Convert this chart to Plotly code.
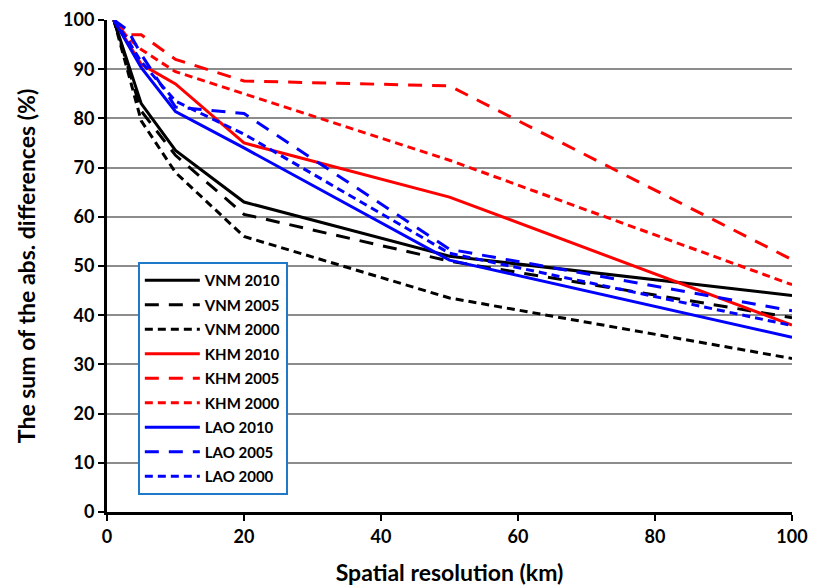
import plotly.graph_objects as go

# spatial resolution (km)
resolution = [1, 3, 5, 10, 20, 50, 100]

vnm_2010 = [100, 91.5, 83, 73.5, 63, 52, 44]
vnm_2005 = [100, 90.5, 81.5, 72.5, 60.5, 51, 39.5]
vnm_2000 = [100, 89.5, 79.5, 69, 56, 43.5, 31.2]
khm_2010 = [100, 95.5, 91, 87, 75, 64, 38]
khm_2005 = [100, 97, 97, 92, 87.6, 86.6, 51.3]
khm_2000 = [100, 96.5, 94, 89.5, 85, 71.5, 46.2]
lao_2010 = [100, 95, 90.3, 81.4, 74, 51.2, 35.5]
lao_2005 = [100, 98, 93, 82.3, 81, 53.4, 40.9]
lao_2000 = [100, 96, 91.5, 83.5, 76.8, 52.6, 37.9]

LONG_DASH = "14px,10px"
SHORT_DASH = "8px,5px"

series = [
    ("VNM 2010", vnm_2010, "black", "solid"),
    ("VNM 2005", vnm_2005, "black", LONG_DASH),
    ("VNM 2000", vnm_2000, "black", SHORT_DASH),
    ("KHM 2010", khm_2010, "#ff0000", "solid"),
    ("KHM 2005", khm_2005, "#ff0000", LONG_DASH),
    ("KHM 2000", khm_2000, "#ff0000", SHORT_DASH),
    ("LAO 2010", lao_2010, "#0000ff", "solid"),
    ("LAO 2005", lao_2005, "#0000ff", LONG_DASH),
    ("LAO 2000", lao_2000, "#0000ff", SHORT_DASH),
]

FONT = "Lato"

fig = go.Figure()
for name, values, color, dash in series:
    fig.add_trace(
        go.Scatter(
            x=resolution,
            y=values,
            mode="lines",
            name=name,
            legendgroup=name,
            line=dict(color=color, width=3, dash=dash),
        )
    )

# the page puts the plot 8px in from the top-left corner, margins make up for it
fig.update_layout(
    width=817,
    height=587,
    margin=dict(l=99, r=33, t=12, b=83, autoexpand=False),
    plot_bgcolor="white",
    paper_bgcolor="white",
    font=dict(family=FONT, color="black"),
    showlegend=True,
    legend=dict(
        x=0.045,
        y=0.508,
        xanchor="left",
        yanchor="top",
        bgcolor="white",
        bordercolor="#1f78c8",
        borderwidth=2,
        font=dict(family=FONT, size=15, color="black", weight="bold"),
        itemwidth=55,
        tracegroupgap=2,
    ),
    xaxis=dict(
        range=[0, 100],
        tickvals=[0, 20, 40, 60, 80, 100],
        showgrid=False,
        zeroline=False,
        showline=True,
        linecolor="black",
        linewidth=3,
        ticks="outside",
        ticklen=6,
        tickwidth=2,
        tickcolor="black",
        automargin=False,
        tickfont=dict(family=FONT, size=18, weight="bold"),
        title=dict(
            text="Spatial resolution (km)",
            font=dict(family=FONT, size=23, weight="bold"),
            standoff=20,
        ),
    ),
    yaxis=dict(
        range=[0, 100],
        dtick=10,
        showgrid=True,
        gridcolor="#8c8c8c",
        gridwidth=2,
        zeroline=False,
        showline=True,
        linecolor="black",
        linewidth=3,
        ticks="outside",
        ticklen=6,
        tickwidth=2,
        tickcolor="black",
        automargin=False,
        tickfont=dict(family=FONT, size=18, weight="bold"),
        title=dict(
            text="The sum of the abs. differences (%)",
            font=dict(family=FONT, size=23, weight="bold"),
            standoff=22,
        ),
    ),
)

fig.write_html("out.html")
